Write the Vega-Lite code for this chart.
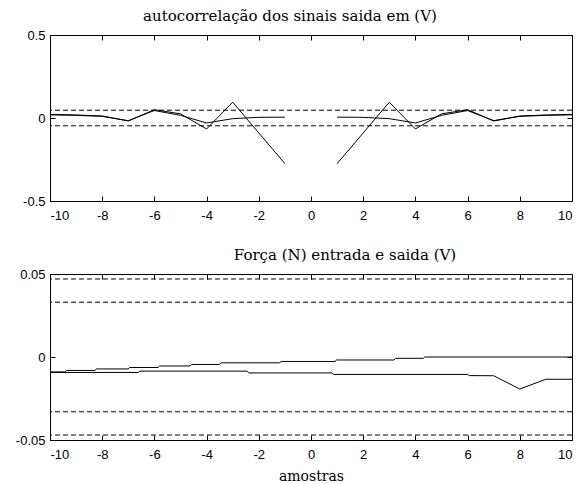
{
  "$schema": "https://vega.github.io/schema/vega-lite/v6.json",
  "background": "white",
  "padding": {"left": 14, "top": 8, "right": 0, "bottom": 0},
  "bounds": "flush",
  "spacing": 73,
  "config": {
    "view": {"stroke": "black", "strokeWidth": 1},
    "axis": {
      "domain": false, "grid": false, "ticks": true, "tickSize": -5, "tickColor": "black", "tickWidth": 1,
      "labelFont": "Liberation Sans", "labelFontSize": 13, "labelColor": "black",
      "titleFont": "DejaVu Serif", "titleFontSize": 14, "titleFontWeight": "normal", "titleColor": "black"
    },
    "title": {"font": "DejaVu Serif", "fontSize": 15, "fontWeight": "normal", "color": "black", "baseline": "alphabetic", "offset": 5}
  },
  "datasets": {
    "top": [
      {"s": "A1", "x": -10, "y": 0.022}, {"s": "A1", "x": -9, "y": 0.018}, {"s": "A1", "x": -8, "y": 0.012},
      {"s": "A1", "x": -7, "y": -0.018}, {"s": "A1", "x": -6, "y": 0.05}, {"s": "A1", "x": -5, "y": 0.025},
      {"s": "A1", "x": -4, "y": -0.066}, {"s": "A1", "x": -3, "y": 0.095}, {"s": "A1", "x": -2, "y": -0.09},
      {"s": "A1", "x": -1, "y": -0.275},
      {"s": "B1", "x": -10, "y": 0.019}, {"s": "B1", "x": -9, "y": 0.016}, {"s": "B1", "x": -8, "y": 0.01},
      {"s": "B1", "x": -7, "y": -0.016}, {"s": "B1", "x": -6, "y": 0.045}, {"s": "B1", "x": -5, "y": 0.016},
      {"s": "B1", "x": -4, "y": -0.03}, {"s": "B1", "x": -3, "y": -0.004}, {"s": "B1", "x": -2, "y": 0.004},
      {"s": "B1", "x": -1, "y": 0.005},
      {"s": "A2", "x": 1, "y": -0.275}, {"s": "A2", "x": 2, "y": -0.09}, {"s": "A2", "x": 3, "y": 0.095},
      {"s": "A2", "x": 4, "y": -0.066}, {"s": "A2", "x": 5, "y": 0.025}, {"s": "A2", "x": 6, "y": 0.05},
      {"s": "A2", "x": 7, "y": -0.018}, {"s": "A2", "x": 8, "y": 0.012}, {"s": "A2", "x": 9, "y": 0.018},
      {"s": "A2", "x": 10, "y": 0.022},
      {"s": "B2", "x": 1, "y": 0.005}, {"s": "B2", "x": 2, "y": 0.004}, {"s": "B2", "x": 3, "y": -0.004},
      {"s": "B2", "x": 4, "y": -0.03}, {"s": "B2", "x": 5, "y": 0.016}, {"s": "B2", "x": 6, "y": 0.045},
      {"s": "B2", "x": 7, "y": -0.016}, {"s": "B2", "x": 8, "y": 0.01}, {"s": "B2", "x": 9, "y": 0.016},
      {"s": "B2", "x": 10, "y": 0.019}
    ],
    "toplim": [{"y": 0.047}, {"y": -0.047}],
    "bottom": [
      {"s": "C", "x": -10, "y": -0.009}, {"s": "C", "x": -9.43, "y": -0.009}, {"s": "C", "x": -9.37, "y": -0.0081},
      {"s": "C", "x": -8.28, "y": -0.0081}, {"s": "C", "x": -8.22, "y": -0.0072}, {"s": "C", "x": -7.01, "y": -0.0072},
      {"s": "C", "x": -6.95, "y": -0.0063}, {"s": "C", "x": -5.86, "y": -0.0063}, {"s": "C", "x": -5.8, "y": -0.0054},
      {"s": "C", "x": -4.64, "y": -0.0054}, {"s": "C", "x": -4.58, "y": -0.0045}, {"s": "C", "x": -3.51, "y": -0.0045},
      {"s": "C", "x": -3.45, "y": -0.0035}, {"s": "C", "x": -1.2, "y": -0.0035}, {"s": "C", "x": -1.14, "y": -0.0027},
      {"s": "C", "x": 0.92, "y": -0.0027}, {"s": "C", "x": 0.98, "y": -0.0018}, {"s": "C", "x": 3.18, "y": -0.0018},
      {"s": "C", "x": 3.24, "y": -0.0008}, {"s": "C", "x": 4.3, "y": -0.0008}, {"s": "C", "x": 4.36, "y": 0},
      {"s": "C", "x": 10, "y": 0},
      {"s": "D", "x": -10, "y": -0.0093}, {"s": "D", "x": -6.62, "y": -0.0093}, {"s": "D", "x": -6.55, "y": -0.0085},
      {"s": "D", "x": -2.45, "y": -0.0085}, {"s": "D", "x": -2.38, "y": -0.0096}, {"s": "D", "x": 0.8, "y": -0.0096},
      {"s": "D", "x": 0.87, "y": -0.0105}, {"s": "D", "x": 6.0, "y": -0.0105}, {"s": "D", "x": 6.07, "y": -0.0112},
      {"s": "D", "x": 7.0, "y": -0.0113}, {"s": "D", "x": 8.0, "y": -0.0193}, {"s": "D", "x": 9.0, "y": -0.0134},
      {"s": "D", "x": 10, "y": -0.0134}
    ],
    "botlim": [{"y": 0.047}, {"y": 0.033}, {"y": -0.033}, {"y": -0.047}]
  },
  "vconcat": [
    {
      "width": 522, "height": 166,
      "title": {"text": "autocorrelação dos sinais saida em (V)", "dx": -21},
      "resolve": {"axis": {"x": "independent", "y": "independent"}},
      "layer": [
        {
          "data": {"name": "toplim"},
          "mark": {"type": "rule", "color": "black", "strokeWidth": 1, "strokeDash": [5, 3]},
          "encoding": {
            "y": {"field": "y", "type": "quantitative", "scale": {"domain": [-0.5, 0.5], "nice": false, "zero": false},
                  "axis": {"orient": "left", "values": [-0.5, 0, 0.5], "labelPadding": 10, "labelExpr": "'' + datum.value", "title": null}}
          }
        },
        {
          "data": {"name": "top"},
          "mark": {"type": "line", "color": "black", "strokeWidth": 1},
          "encoding": {
            "x": {"field": "x", "type": "quantitative", "scale": {"domain": [-10, 10], "nice": false, "zero": false},
                  "axis": {"orient": "bottom", "values": [-10, -8, -6, -4, -2, 0, 2, 4, 6, 8, 10], "labelPadding": 13, "labelExpr": "'' + datum.value", "title": null}},
            "y": {"field": "y", "type": "quantitative", "axis": null},
            "detail": {"field": "s"}
          }
        },
        {
          "data": {"name": "top"},
          "mark": {"type": "point", "opacity": 0},
          "encoding": {
            "x": {"field": "x", "type": "quantitative", "axis": {"orient": "top", "values": [-10, -8, -6, -4, -2, 0, 2, 4, 6, 8, 10], "labels": false, "title": null}},
            "y": {"field": "y", "type": "quantitative", "axis": {"orient": "right", "values": [-0.5, 0, 0.5], "labels": false, "title": null}}
          }
        }
      ]
    },
    {
      "width": 522, "height": 166,
      "title": {"text": "Força (N) entrada e saida (V)", "dx": 34},
      "resolve": {"axis": {"x": "independent", "y": "independent"}},
      "layer": [
        {
          "data": {"name": "botlim"},
          "mark": {"type": "rule", "color": "black", "strokeWidth": 1, "strokeDash": [5, 3]},
          "encoding": {
            "y": {"field": "y", "type": "quantitative", "scale": {"domain": [-0.05, 0.05], "nice": false, "zero": false},
                  "axis": {"orient": "left", "values": [-0.05, 0, 0.05], "labelPadding": 10, "labelExpr": "'' + datum.value", "title": null}}
          }
        },
        {
          "data": {"name": "bottom"},
          "mark": {"type": "line", "color": "black", "strokeWidth": 1},
          "encoding": {
            "x": {"field": "x", "type": "quantitative", "scale": {"domain": [-10, 10], "nice": false, "zero": false},
                  "axis": {"orient": "bottom", "values": [-10, -8, -6, -4, -2, 0, 2, 4, 6, 8, 10], "labelPadding": 13, "labelExpr": "'' + datum.value", "title": "amostras", "titlePadding": 8}},
            "y": {"field": "y", "type": "quantitative", "axis": null},
            "detail": {"field": "s"}
          }
        },
        {
          "data": {"name": "bottom"},
          "mark": {"type": "point", "opacity": 0},
          "encoding": {
            "x": {"field": "x", "type": "quantitative", "axis": {"orient": "top", "values": [-10, -8, -6, -4, -2, 0, 2, 4, 6, 8, 10], "labels": false, "title": null}},
            "y": {"field": "y", "type": "quantitative", "axis": {"orient": "right", "values": [-0.05, 0, 0.05], "labels": false, "title": null}}
          }
        }
      ]
    }
  ]
}
